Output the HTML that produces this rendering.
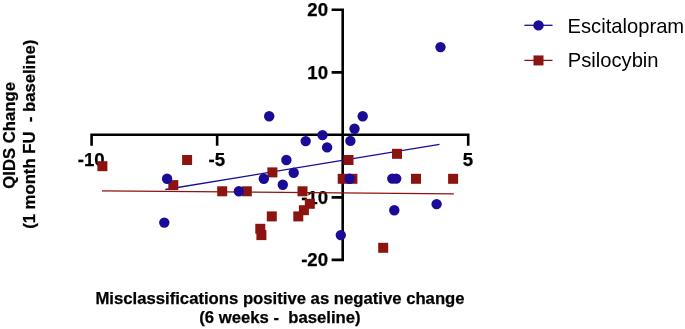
<!DOCTYPE html>
<html><head><meta charset="utf-8"><title>Figure</title>
<style>html,body{margin:0;padding:0;background:#fff}svg{display:block}text{font-family:"Liberation Sans",sans-serif;fill:#000}.b{font-weight:bold;stroke:#000;stroke-width:.25px}</style></head><body>
<svg width="685" height="329" viewBox="0 0 685 329">
<rect width="685" height="329" fill="#fff"/>
<g stroke="#000" stroke-width="2.6" fill="none">
<path d="M91.6 145.7V134.75H468.2V145.7M217.15 134.75V145.7"/>
<path d="M331.6 9.7H342.7V259.85H331.6M342.7 72.4H331.6M342.7 197.4H331.6"/>
</g>
<text class="b" x="328.0" y="16.1" font-size="18.6" text-anchor="end">20</text>
<text class="b" x="328.0" y="78.8" font-size="18.6" text-anchor="end">10</text>
<text class="b" x="328.0" y="203.8" font-size="18.6" text-anchor="end">-10</text>
<text class="b" x="328.0" y="266.2" font-size="18.6" text-anchor="end">-20</text>
<text class="b" x="91.2" y="166.3" font-size="18.6" text-anchor="middle">-10</text>
<text class="b" x="216.8" y="166.3" font-size="18.6" text-anchor="middle">-5</text>
<text class="b" x="467.8" y="166.3" font-size="18.6" text-anchor="middle">5</text>
<line x1="165.3" y1="189.5" x2="439.5" y2="144.35" stroke="#1a0c96" stroke-width="1.3"/>
<line x1="102" y1="190.9" x2="453.9" y2="193.8" stroke="#8b1410" stroke-width="1.3"/>
<rect x="97.4" y="161.2" width="10" height="10" fill="#8b1410"/>
<rect x="182.1" y="155.0" width="10" height="10" fill="#8b1410"/>
<rect x="168.3" y="180.1" width="10" height="10" fill="#8b1410"/>
<rect x="217.2" y="186.3" width="10" height="10" fill="#8b1410"/>
<rect x="241.8" y="186.3" width="10" height="10" fill="#8b1410"/>
<rect x="297.5" y="186.3" width="10" height="10" fill="#8b1410"/>
<rect x="267.4" y="167.4" width="10" height="10" fill="#8b1410"/>
<rect x="343.5" y="155.0" width="10" height="10" fill="#8b1410"/>
<rect x="337.7" y="173.8" width="10" height="10" fill="#8b1410"/>
<rect x="347.4" y="173.8" width="10" height="10" fill="#8b1410"/>
<rect x="392.0" y="148.8" width="10" height="10" fill="#8b1410"/>
<rect x="411.0" y="173.8" width="10" height="10" fill="#8b1410"/>
<rect x="448.1" y="173.8" width="10" height="10" fill="#8b1410"/>
<rect x="304.8" y="198.8" width="10" height="10" fill="#8b1410"/>
<rect x="298.9" y="205.2" width="10" height="10" fill="#8b1410"/>
<rect x="293.3" y="211.4" width="10" height="10" fill="#8b1410"/>
<rect x="266.8" y="211.4" width="10" height="10" fill="#8b1410"/>
<rect x="255.3" y="223.8" width="10" height="10" fill="#8b1410"/>
<rect x="256.4" y="230.1" width="10" height="10" fill="#8b1410"/>
<rect x="378.2" y="242.8" width="10" height="10" fill="#8b1410"/>
<circle cx="167.1" cy="178.7" r="5.2" fill="#1a0c96"/>
<circle cx="164.3" cy="222.6" r="5.2" fill="#1a0c96"/>
<circle cx="238.9" cy="191.2" r="5.2" fill="#1a0c96"/>
<circle cx="269.2" cy="116.3" r="5.2" fill="#1a0c96"/>
<circle cx="322.5" cy="135.1" r="5.2" fill="#1a0c96"/>
<circle cx="305.7" cy="141.1" r="5.2" fill="#1a0c96"/>
<circle cx="327.1" cy="147.4" r="5.2" fill="#1a0c96"/>
<circle cx="354.5" cy="128.7" r="5.2" fill="#1a0c96"/>
<circle cx="350.4" cy="140.9" r="5.2" fill="#1a0c96"/>
<circle cx="362.7" cy="116.3" r="5.2" fill="#1a0c96"/>
<circle cx="286.4" cy="160.0" r="5.2" fill="#1a0c96"/>
<circle cx="293.7" cy="172.7" r="5.2" fill="#1a0c96"/>
<circle cx="263.8" cy="178.8" r="5.2" fill="#1a0c96"/>
<circle cx="282.8" cy="184.8" r="5.2" fill="#1a0c96"/>
<circle cx="349.6" cy="178.8" r="5.2" fill="#1a0c96"/>
<circle cx="392.3" cy="178.6" r="5.2" fill="#1a0c96"/>
<circle cx="396.2" cy="178.6" r="5.2" fill="#1a0c96"/>
<circle cx="440.5" cy="47.1" r="5.2" fill="#1a0c96"/>
<circle cx="394.3" cy="210.2" r="5.2" fill="#1a0c96"/>
<circle cx="436.6" cy="204.1" r="5.2" fill="#1a0c96"/>
<circle cx="340.8" cy="235.1" r="5.2" fill="#1a0c96"/>
<text class="b" font-size="16.7" text-anchor="middle" x="280" y="303.7">Misclassifications positive as negative change</text>
<text class="b" font-size="16.7" text-anchor="middle" x="279.9" y="322.5" xml:space="preserve">(6 weeks -  baseline)</text>
<text class="b" font-size="16.7" text-anchor="middle" transform="translate(14.9 135.4) rotate(-90)">QIDS Change</text>
<text class="b" font-size="16.7" text-anchor="middle" transform="translate(34.5 134.3) rotate(-90)" xml:space="preserve">(1 month FU  - baseline)</text>
<line x1="524.4" y1="25.3" x2="552.5" y2="25.3" stroke="#1a0c96" stroke-width="1.3"/><circle cx="538.5" cy="25.4" r="5.2" fill="#1a0c96"/>
<line x1="524.4" y1="60.4" x2="552.5" y2="60.4" stroke="#8b1410" stroke-width="1.3"/><rect x="533.5" y="55.45" width="10" height="10" fill="#8b1410"/>
<text font-size="20.2" x="567.5" y="32.5">Escitalopram</text>
<text font-size="20.2" x="567.7" y="67.3">Psilocybin</text>
</svg></body></html>
